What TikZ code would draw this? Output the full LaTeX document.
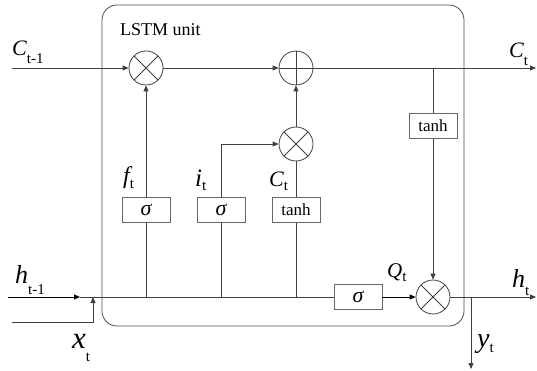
\documentclass[tikz,border=0pt]{standalone}
\usepackage{fontspec}
\setmainfont{Liberation Serif}
\usetikzlibrary{arrows.meta,positioning}

% variable with upright subscript: size, letter, subscript, drop
\newcommand{\lvar}[4]{{\fontsize{#1}{#1}\selectfont\itshape #2}\raisebox{-#4pt}{\fontsize{15}{15}\selectfont #3}}
\newcommand{\sig}{{\fontsize{22}{22}\selectfont\itshape σ}}

\tikzset{
  wire/.style={draw=black!75, line width=0.8pt},
  arr/.style={wire, -{Triangle[length=6pt,width=5pt]}},
  gatebox/.style={draw=black!60, line width=0.8pt, minimum width=48pt,
    minimum height=25pt, inner sep=0pt, fill=white, font=\fontsize{17}{17}\selectfont},
  opcirc/.style={circle, draw=black!75, line width=0.8pt, minimum size=34pt, inner sep=0pt},
  mult/.style={opcirc, path picture={
    \draw[black!75, line width=0.8pt]
      (path picture bounding box.north west) -- (path picture bounding box.south east)
      (path picture bounding box.north east) -- (path picture bounding box.south west);}},
  plus/.style={opcirc, path picture={
    \draw[black!75, line width=0.8pt]
      (path picture bounding box.north) -- (path picture bounding box.south)
      (path picture bounding box.west) -- (path picture bounding box.east);}},
  lbl/.style={inner sep=0pt, anchor=base west}
}

\begin{document}
\begin{tikzpicture}[x=1pt, y=-1pt]
  \useasboundingbox (0,0) rectangle (537,371);

  % unit frame
  \draw[black!70, line width=0.8pt, rounded corners=15pt] (102,5) rectangle (464,326);
  \node[lbl, font=\fontsize{18}{18}\selectfont] (unit) at (120,36) {LSTM unit};

  % free ends
  \coordinate (cin) at (12,68);
  \coordinate (cout) at (536,68);
  \coordinate (hin) at (8,297);
  \coordinate (hjoin) at (80,297);
  \coordinate (xin) at (12,322);
  \coordinate (xjoin) at (93,297);
  \coordinate (hout) at (536,297);
  \coordinate (ytap) at (471,297);
  \coordinate (yout) at (471,369);

  % operations
  \node[mult] (mf) at (146,68) {};
  \node[plus] (add) at (296,68) {};
  \node[mult] (mi) at (296,144) {};
  \node[mult] (mo) at (433,297) {};

  % gates
  \node[gatebox] (sf) at (146,210) {\sig};
  \node[gatebox] (si) at (221,210) {\sig};
  \node[gatebox] (tc) at (296,210) {tanh};
  \node[gatebox] (so) at (358,297) {\sig};
  \node[gatebox] (th) at (433,126) {tanh};

  % cell state
  \draw[arr] (cin) -- (mf);
  \draw[arr] (mf) -- (add);
  \draw[arr] (add) -- (cout);
  \draw[wire] (th.north |- cin) -- (th);
  \draw[arr] (th) -- (mo);
  \draw[arr] (mi) -- (add);
  \draw[arr] (si.north) |- (mi.west);
  \draw[arr] (sf) -- (mf);
  \draw[wire] (tc) -- (mi);

  % inputs
  \draw[arr, draw=black] (hin) -- (hjoin);
  \draw[wire] (hjoin) -- (so);
  \draw[arr] (xin) -| (xjoin);
  \draw[wire] (sf) -- (sf |- hin);
  \draw[wire] (si) -- (si |- hin);
  \draw[wire] (tc) -- (tc |- hin);

  % outputs
  \draw[arr, draw=black] (so) -- (mo);
  \draw[arr] (mo) -- (hout);
  \draw[arr] (ytap) -- (yout);

  % labels
  \node[lbl] (lcin) at (12,56) {\lvar{22}{C}{t-1}{8}};
  \node[lbl] (lhin) at (15,283) {\lvar{26}{h}{t-1}{11}};
  \node[lbl] (lxin) at (72,348) {\lvar{31}{x}{t}{13}};
  \node[lbl] (lf) at (123,184) {\lvar{24}{f}{t}{5}};
  \node[lbl] (li) at (195,186) {\lvar{25}{i}{t}{4}};
  \node[lbl] (lc) at (269,186) {\lvar{22}{C}{t}{4}};
  \node[lbl] (lcout) at (509,58) {\lvar{22}{C}{t}{8}};
  \node[lbl] (lq) at (387,277) {\lvar{21}{Q}{t}{4}};
  \node[lbl] (lhout) at (512,287) {\lvar{26}{h}{t}{8}};
  \node[lbl] (ly) at (477,347) {\lvar{28}{y}{t}{5}};
\end{tikzpicture}
\end{document}
